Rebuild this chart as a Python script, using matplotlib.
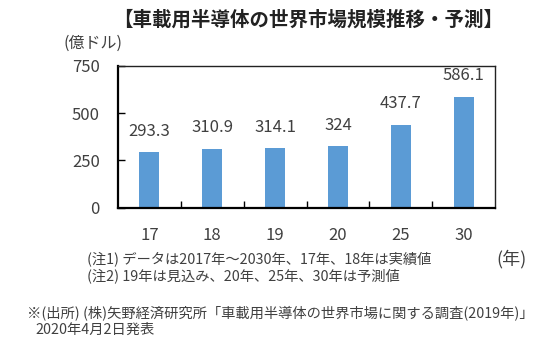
import matplotlib
matplotlib.use('Agg')
import matplotlib.pyplot as plt
import numpy as np

plt.rcParams['font.family'] = ['Noto Sans CJK JP', 'DejaVu Sans']

# data
years = ['17', '18', '19', '20', '25', '30']
market_size = [293.3, 310.9, 314.1, 324, 437.7, 586.1]
value_labels = ['293.3', '310.9', '314.1', '324', '437.7', '586.1']
y_ticks = [0, 250, 500, 750]

bar_color = '#5B9BD5'
text_color = '#404040'

fig = plt.figure(figsize=(5.4, 3.49), dpi=100)
ax = fig.add_axes([118 / 540, 141.3 / 349, 377 / 540, 142 / 349])

x = np.arange(len(years))
ax.bar(x, market_size, width=0.32, color=bar_color, zorder=2)

for xi, v, lab in zip(x, market_size, value_labels):
    ax.annotate(lab, (xi, v), xytext=(0, 9), textcoords='offset points',
                ha='center', va='bottom', fontsize=12, color=text_color)

ax.set_xlim(-0.5, len(years) - 0.5)
ax.set_ylim(0, 750)
ax.set_yticks(y_ticks)
ax.set_yticklabels([str(t) for t in y_ticks], fontsize=12, color=text_color)
ax.tick_params(axis='y', direction='in', length=5, width=1, pad=13)

ax.set_xticks(x)
ax.set_xticklabels(years, fontsize=12, color=text_color)
ax.tick_params(axis='x', which='major', length=0, pad=14)
ax.set_xticks(x[:-1] + 0.5, minor=True)
ax.tick_params(axis='x', which='minor', direction='in', length=5, width=1)

for side in ['top', 'right']:
    ax.spines[side].set_linewidth(1.0)
    ax.spines[side].set_color('#222222')
for side in ['left', 'bottom']:
    ax.spines[side].set_linewidth(1.6)
    ax.spines[side].set_color('black')

fig.text(0.571, 1 - 20 / 349, '【車載用半導体の世界市場規模推移・予測】', ha='center', va='center',
         fontsize=14, fontweight='bold', color='#222222')
fig.text(93 / 540, 1 - 43 / 349, '(億ドル)', ha='center', va='center',
         fontsize=11.5, color=text_color)
fig.text(512 / 540, 1 - 259 / 349, '(年)', ha='center', va='center',
         fontsize=13, color=text_color)

fig.text(87 / 540, 1 - 259 / 349, '(注1) データは2017年～2030年、17年、18年は実績値',
         ha='left', va='center', fontsize=10.3, color=text_color)
fig.text(87 / 540, 1 - 276 / 349, '(注2) 19年は見込み、20年、25年、30年は予測値',
         ha='left', va='center', fontsize=10.3, color=text_color)
fig.text(27 / 540, 1 - 313 / 349, '※(出所) (株)矢野経済研究所「車載用半導体の世界市場に関する調査(2019年)」',
         ha='left', va='center', fontsize=10.3, color=text_color)
fig.text(35 / 540, 1 - 330 / 349, '2020年4月2日発表',
         ha='left', va='center', fontsize=10.3, color=text_color)

fig.savefig('out.png', dpi=100)
